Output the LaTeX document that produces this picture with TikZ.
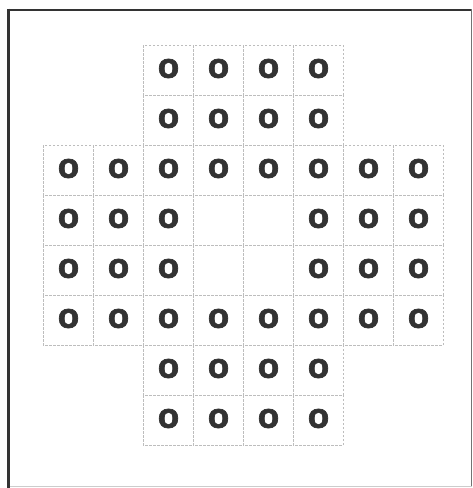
\documentclass[tikz,border=0pt]{standalone}
\usepackage{fontspec}
\setmainfont{Liberation Sans}
\newfontfamily\pegfont{Liberation Sans}[BoldFeatures={FakeBold=2}]
\definecolor{glyph}{HTML}{333333}
\definecolor{gridc}{HTML}{BDBDBD}
\begin{document}
\begin{tikzpicture}[x=1pt,y=-1pt,
  cellbox/.style={draw=gridc,dashed,dash pattern=on 2.5pt off 1.5pt,line width=0.6pt},
  peg/.style={font=\pegfont\fontsize{35}{35}\selectfont\bfseries,text=glyph,inner sep=0pt,anchor=center}]
\useasboundingbox (0,0) rectangle (473,488);
\fill[white] (0,0) rectangle (473,488);
% frame
\draw[line width=1pt,color=black!20] (471,9) -- (471,486) -- (7,486);
\draw[line width=1pt,color=black!55] (471,9) -- (471,486);
\draw[line width=2pt,color=black!80] (471,9.5) -- (8,9.5);
\draw[line width=3pt,color=black!80] (8,8.5) -- (8,488);
% cells
\foreach \r in {0,...,7}{
  \foreach \c in {0,...,7}{
    \pgfmathtruncatemacro{\inside}{ ((\r>1 && \r<6) || (\c>1 && \c<6)) ? 1 : 0 }
    \ifnum\inside=1
      \draw[cellbox] ({43+50*\c},{45+50*\r}) rectangle ({93+50*\c},{95+50*\r});
      \pgfmathtruncatemacro{\hole}{ (\r>2 && \r<5 && \c>2 && \c<5) ? 1 : 0 }
      \ifnum\hole=0
        \node[peg] (p\r\c) at ({68.5+50*\c},{68.5+50*\r}) {o};
      \fi
    \fi
  }
}
\end{tikzpicture}
\end{document}
